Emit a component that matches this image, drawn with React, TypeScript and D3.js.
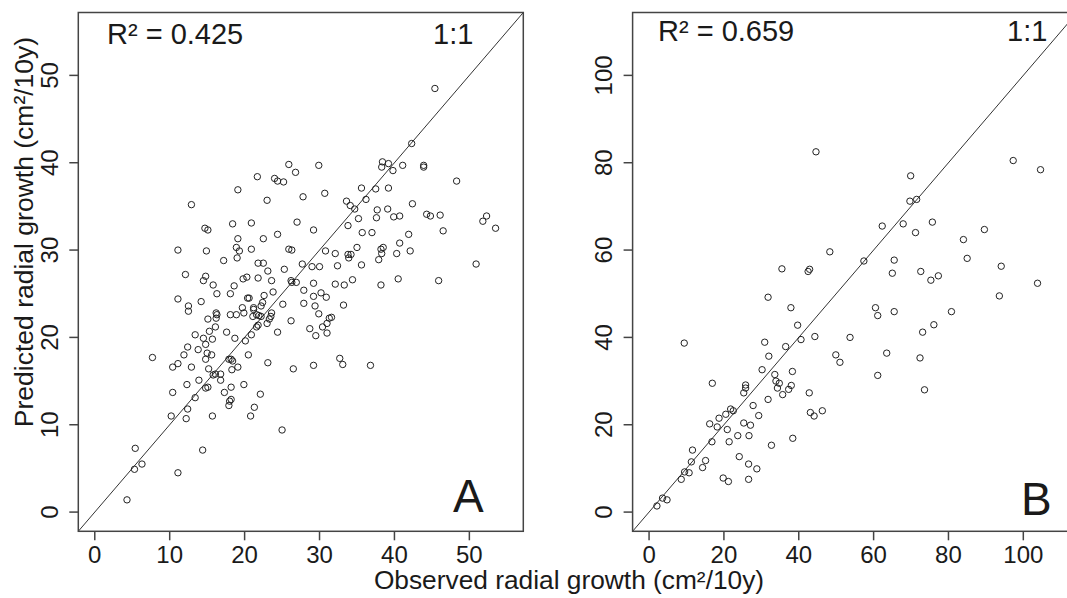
import React from 'react';
import * as d3 from 'd3';

// Panel A: observed vs predicted radial growth
const obsA = [
  45.4, 42.3, 38.4, 38.3, 39.2, 39.8, 41.1, 43.9, 43.9, 25.9, 29.9, 26.8, 21.7, 24.0, 24.4, 25.2,
  19.1, 48.3, 35.6, 37.5, 39.2, 30.7, 27.8, 36.2, 23.0, 12.9, 33.6, 34.1, 34.7, 42.4, 39.1, 37.7,
  44.3, 44.8, 46.1, 40.7, 39.9, 52.3, 51.8, 53.5, 35.2, 37.6, 27.0, 20.9, 18.4, 14.7, 15.1, 29.2,
  33.8, 35.7, 37.0, 46.5, 24.4, 41.9, 22.5, 19.1, 38.5, 38.2, 40.7, 35.0, 11.1, 14.9, 25.9, 26.3,
  20.9, 19.3, 18.9, 30.8, 32.1, 33.8, 34.2, 33.9, 42.1, 40.3, 38.3, 37.9, 17.2, 19.0, 21.8, 22.5,
  27.7, 35.6, 32.4, 50.9, 29.0, 30.0, 25.3, 23.1, 12.1, 14.8, 20.3, 21.8, 19.8, 14.5, 23.6, 26.2,
  26.3, 34.4, 40.5, 45.9, 26.9, 29.2, 32.1, 33.3, 38.2, 15.8, 18.6, 27.9, 20.4, 20.6, 18.1, 16.3,
  23.8, 22.6, 30.2, 30.9, 29.2, 11.1, 14.2, 12.5, 27.9, 25.1, 22.4, 22.2, 33.2, 29.4, 19.7, 21.2,
  21.2, 12.5, 16.2, 16.3, 18.1, 18.9, 19.9, 23.6, 29.9, 21.6, 21.1, 21.9, 22.2, 31.6, 31.3, 23.5,
  23.3, 15.1, 16.2, 26.2, 31.0, 23.0, 16.1, 21.6, 21.8, 30.4, 15.3, 17.6, 28.7, 24.4, 31.0, 29.5,
  20.9, 13.4, 14.5, 18.7, 15.7, 20.1, 14.8, 12.4, 13.8, 15.0, 11.9, 15.6, 20.5, 7.7, 17.9, 18.2,
  18.4, 14.8, 32.7, 33.1, 23.1, 11.1, 36.8, 29.2, 10.4, 12.9, 19.1, 26.5, 15.2, 18.3, 16.1, 15.8,
  16.8, 13.9, 16.8, 12.3, 19.9, 18.2, 14.8, 15.1, 10.4, 17.3, 22.1, 13.4, 18.2, 18.0, 17.9, 12.4,
  21.3, 10.2, 15.7, 20.8, 12.2, 25.0, 5.4, 14.4, 5.3, 6.3, 11.1, 4.3,
];
const predA = [
  48.5, 42.2, 40.1, 39.5, 39.9, 39.1, 39.7, 39.7, 39.5, 39.8, 39.7, 38.9, 38.4, 38.2, 37.9, 37.8,
  36.9, 37.9, 37.1, 37.0, 37.1, 36.5, 36.1, 35.8, 35.7, 35.2, 35.6, 35.1, 34.7, 35.3, 34.7, 34.6,
  34.1, 33.9, 34.0, 33.9, 33.8, 33.9, 33.3, 32.5, 33.6, 33.7, 33.2, 33.1, 33.0, 32.5, 32.3, 32.3,
  32.8, 32.0, 32.0, 32.2, 31.8, 31.8, 31.3, 31.3, 30.3, 30.1, 30.8, 30.3, 30.0, 29.9, 30.1, 30.0,
  30.1, 29.9, 30.3, 29.9, 29.6, 29.5, 29.5, 29.1, 29.9, 29.6, 29.6, 28.9, 28.8, 29.1, 28.5, 28.5,
  28.4, 28.3, 28.2, 28.4, 28.1, 28.1, 27.8, 27.6, 27.2, 27.0, 26.9, 26.8, 26.7, 26.5, 26.5, 26.5,
  26.3, 26.6, 26.7, 26.5, 26.3, 26.2, 26.1, 26.0, 26.0, 26.0, 25.9, 25.4, 24.5, 24.5, 25.0, 25.0,
  25.2, 24.8, 25.1, 24.6, 24.7, 24.4, 24.1, 23.6, 23.9, 23.8, 24.0, 23.6, 23.7, 23.6, 23.4, 23.4,
  23.2, 23.0, 22.8, 22.6, 22.6, 22.6, 22.8, 22.8, 22.7, 22.6, 22.4, 22.5, 22.4, 22.3, 22.2, 22.4,
  22.1, 22.1, 22.2, 21.9, 21.6, 21.6, 21.2, 21.2, 21.4, 21.2, 20.7, 20.6, 21.0, 20.6, 20.5, 20.2,
  20.3, 20.3, 19.9, 19.9, 19.8, 19.6, 19.2, 18.9, 18.6, 18.2, 18.0, 18.0, 18.0, 17.7, 17.5, 17.5,
  17.3, 17.5, 17.6, 16.9, 17.1, 17.0, 16.8, 16.8, 16.6, 16.6, 16.6, 16.4, 16.4, 16.3, 15.8, 15.7,
  15.8, 15.1, 15.1, 14.6, 14.6, 14.3, 14.2, 14.3, 13.7, 13.7, 13.5, 13.1, 12.9, 12.7, 12.2, 11.8,
  12.0, 11.0, 11.0, 11.0, 10.7, 9.4, 7.3, 7.1, 4.9, 5.5, 4.5, 1.4,
];

// Panel B
const obsB = [
  44.6, 97.3, 104.6, 69.9, 69.7, 71.5, 75.7, 67.9, 62.3, 89.6, 71.2, 84.0, 48.3, 85.0, 65.5, 57.4,
  94.1, 35.5, 42.9, 42.5, 65.0, 72.6, 77.3, 75.3, 103.8, 31.8, 93.6, 60.5, 37.9, 61.1, 65.5, 80.8,
  39.7, 76.1, 73.1, 44.3, 53.7, 40.6, 9.4, 30.9, 36.5, 32.0, 49.9, 63.5, 72.4, 51.0, 30.2, 38.3,
  33.6, 61.1, 33.9, 34.8, 16.9, 25.8, 25.8, 34.3, 38.0, 37.3, 73.6, 25.3, 42.8, 35.7, 31.8, 27.8,
  21.8, 22.5, 46.3, 43.1, 20.5, 44.1, 29.3, 18.7, 18.2, 16.2, 25.3, 27.1, 20.9, 23.7, 26.7, 38.4,
  16.8, 21.4, 32.7, 11.6, 11.3, 24.1, 15.1, 14.3, 26.6, 28.8, 10.7, 9.5, 8.6, 19.8, 21.2, 26.6,
  3.6, 4.8, 2.1,
];
const predB = [
  82.5, 80.5, 78.4, 77.0, 71.2, 71.6, 66.4, 66.0, 65.5, 64.7, 64.0, 62.4, 59.6, 58.1, 57.7, 57.5,
  56.3, 55.7, 55.6, 55.1, 54.7, 55.1, 54.1, 53.1, 52.4, 49.2, 49.5, 46.8, 46.8, 45.0, 45.9, 45.9,
  42.8, 42.9, 41.2, 40.2, 40.0, 39.5, 38.7, 38.9, 37.9, 35.7, 36.0, 36.4, 35.3, 34.3, 32.6, 32.2,
  31.5, 31.3, 30.0, 29.5, 29.5, 29.1, 28.4, 28.4, 29.0, 28.1, 28.0, 27.3, 27.3, 26.9, 25.8, 24.4,
  23.6, 23.2, 23.2, 22.8, 22.4, 22.0, 22.1, 21.5, 19.5, 20.2, 20.4, 19.9, 18.9, 17.5, 17.5, 16.9,
  16.1, 16.1, 15.3, 14.2, 11.5, 12.7, 11.8, 10.2, 11.0, 9.9, 9.0, 9.2, 7.5, 7.8, 7.0, 7.5,
  3.2, 2.8, 1.4,
];

const ticksA = [0, 10, 20, 30, 40, 50];
const ticksB = [0, 20, 40, 60, 80, 100];
const r2Labels = ['R\u00b2 = 0.425', 'R\u00b2 = 0.659'];
const panelLetters = ['A', 'B'];
const oneToOne = '1:1';
const xTitle = 'Observed radial growth (cm\u00b2/10y)';
const yTitle = 'Predicted radial growth (cm\u00b2/10y)';

const FONT = "'Liberation Sans', Arial, Helvetica, sans-serif";
const INK = '#1a1a1a';
const FRAME = '#444';

type PanelProps = {
  id: string;
  obs: number[];
  pred: number[];
  ticks: number[];
  domain: [number, number];
  xr: [number, number];
  yr: [number, number];
  r2: string;
  r2x: number;
  r2y: number;
  onex: number;
  letter: string;
  letterX: number;
  letterY: number;
};

function Panel(p: PanelProps) {
  const x = d3.scaleLinear().domain(p.domain).range(p.xr);
  const y = d3.scaleLinear().domain(p.domain).range(p.yr);
  const [x0, x1] = p.xr;
  const [yb, yt] = p.yr;
  const line = d3.line<number>().x((d) => x(d)).y((d) => y(d));
  return (
    <g>
      <defs>
        <clipPath id={p.id}>
          <rect x={x0} y={yt} width={x1 - x0} height={yb - yt} />
        </clipPath>
      </defs>
      <g clipPath={`url(#${p.id})`}>
        <path d={line(p.domain) || ''} stroke="#333" strokeWidth={1} fill="none" />
        {p.obs.map((o, i) => (
          <circle key={i} cx={x(o)} cy={y(p.pred[i])} r={3.2} fill="none" stroke="#222" strokeWidth={1} />
        ))}
      </g>
      <rect x={x0} y={yt} width={x1 - x0} height={yb - yt} fill="none" stroke={FRAME} strokeWidth={1.5} />
      {p.ticks.map((t) => (
        <g key={'x' + t}>
          <line x1={x(t)} x2={x(t)} y1={yb} y2={yb + 9} stroke={FRAME} strokeWidth={1.5} />
          <text x={x(t)} y={yb + 32} textAnchor="middle" fontSize={24} fill={INK} fontFamily={FONT}>{t}</text>
        </g>
      ))}
      {p.ticks.map((t) => (
        <g key={'y' + t}>
          <line x1={x0 - 9} x2={x0} y1={y(t)} y2={y(t)} stroke={FRAME} strokeWidth={1.5} />
          <text transform={`translate(${x0 - 20.5},${y(t)}) rotate(-90)`} textAnchor="middle" fontSize={24} fill={INK} fontFamily={FONT}>{t}</text>
        </g>
      ))}
      <text x={p.r2x} y={p.r2y} fontSize={29} fill={INK} fontFamily={FONT}>{p.r2}</text>
      <text x={p.onex} y={p.r2y} fontSize={29} fill={INK} fontFamily={FONT}>{oneToOne}</text>
      <text x={p.letterX} y={p.letterY} fontSize={46} fill={INK} fontFamily={FONT}>{p.letter}</text>
    </g>
  );
}

export default function App() {
  return (
    <svg
      width={1067}
      height={598}
      style={{ position: 'absolute', left: 0, top: 0, background: '#fff' }}
    >
      <rect x={0} y={0} width={1067} height={598} fill="#fff" />
      <Panel
        id="clipA"
        obs={obsA}
        pred={predA}
        ticks={ticksA}
        domain={[-2.2, 57.2]}
        xr={[78.3, 523.3]}
        yr={[531.3, 12.5]}
        r2={r2Labels[0]}
        r2x={107}
        r2y={44}
        onex={433}
        letter={panelLetters[0]}
        letterX={453}
        letterY={512}
      />
      <Panel
        id="clipB"
        obs={obsB}
        pred={predB}
        ticks={ticksB}
        domain={[-4.4, 114.4]}
        xr={[632.6, 1077.2]}
        yr={[531.3, 12.5]}
        r2={r2Labels[1]}
        r2x={658}
        r2y={41}
        onex={1007}
        letter={panelLetters[1]}
        letterX={1021}
        letterY={515}
      />
      <text x={569} y={589} textAnchor="middle" fontSize={26.3} fill={INK} fontFamily={FONT}>{xTitle}</text>
      <text transform="translate(33,232) rotate(-90)" textAnchor="middle" fontSize={26.5} fill={INK} fontFamily={FONT}>{yTitle}</text>
    </svg>
  );
}
